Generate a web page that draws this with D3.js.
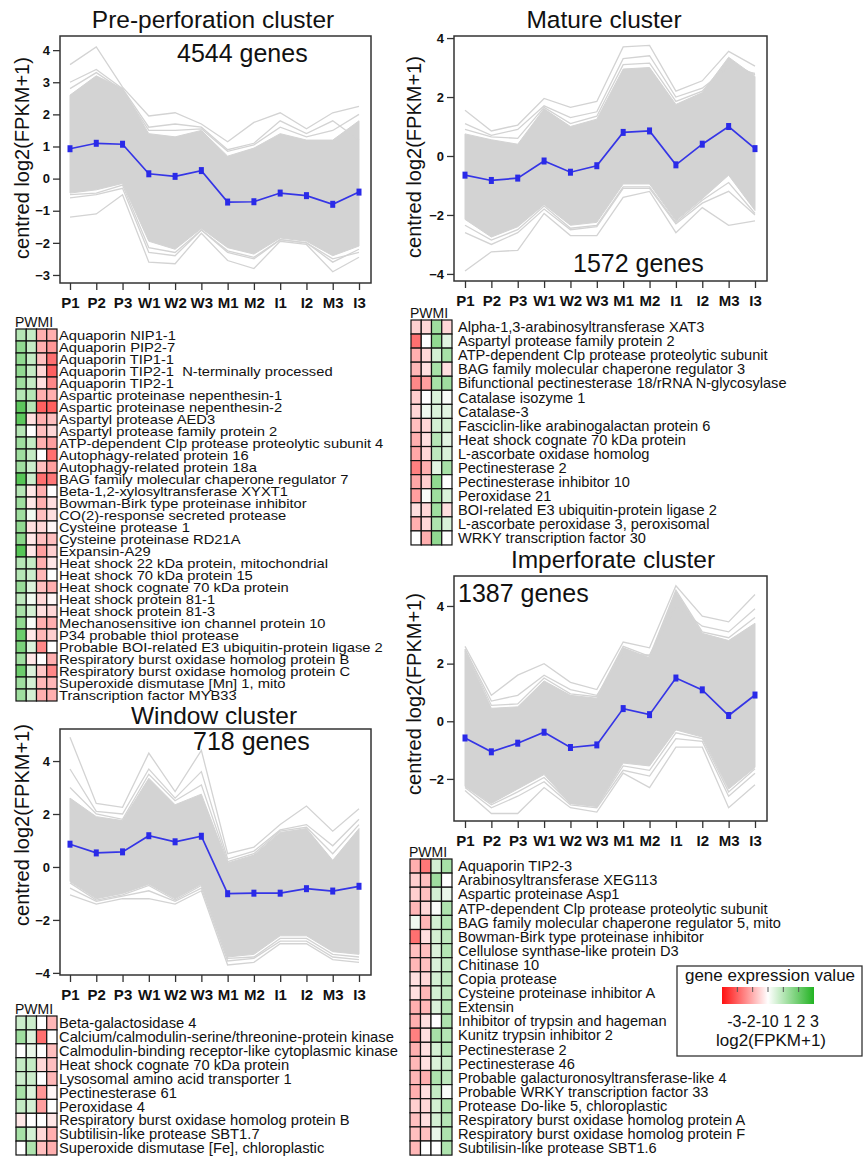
<!DOCTYPE html>
<html><head><meta charset="utf-8">
<script src="https://cdn.jsdelivr.net/npm/d3@7"></script>
<style>
body{margin:0;background:#fff;}
svg{display:block;font-family:"Liberation Sans",Arial,sans-serif;}
</style></head><body>
<svg id="c" width="864" height="1156"></svg>
<script>
// ---------------- DATA ----------------
const stages = ["P1","P2","P3","W1","W2","W3","M1","M2","I1","I2","M3","I3"];
const hmCols = ["P","W","M","I"];

// Pre-perforation cluster (centred log2(FPKM+1))
const preMean = [0.93,1.10,1.07,0.15,0.07,0.25,-0.73,-0.72,-0.45,-0.53,-0.80,-0.42];
const preBandHi = [2.6,3.2,2.8,1.4,1.3,1.5,0.7,0.95,1.4,1.2,1.2,1.8];
const preBandLo = [-0.45,-0.35,-0.15,-1.95,-2.2,-1.55,-2.15,-2.35,-1.85,-1.95,-2.4,-2.1];
const preMax = [3.55,4.1,2.85,1.95,2.05,1.7,1.15,1.75,2.05,1.55,2.05,2.25];
const preMin = [-1.2,-1.1,-0.5,-2.6,-2.65,-1.7,-2.55,-2.8,-1.95,-2.05,-2.9,-2.45];
const preHi2 = [3.0,3.4,2.8,1.6,1.7,1.6,0.9,1.1,1.8,1.4,1.8,1.2];
const preLo2 = [-0.6,-0.5,-0.3,-2.3,-2.4,-1.6,-2.3,-2.5,-1.9,-2.0,-2.6,-2.2];
const preHi3 = [2.8,3.3,2.75,1.5,1.5,1.55,0.85,1.05,1.6,1.3,1.5,2.0];
const preLo3 = [-0.5,-0.45,-0.2,-2.15,-2.3,-1.6,-2.25,-2.45,-1.9,-2.0,-2.5,-2.3];

// Mature cluster
const matMean = [-0.65,-0.83,-0.75,-0.17,-0.55,-0.33,0.80,0.85,-0.30,0.40,1.00,0.25];
const matBandHi = [0.75,0.55,0.4,1.6,1.0,1.25,2.95,3.0,1.75,2.15,3.35,2.7];
const matBandLo = [-2.15,-2.75,-2.4,-1.65,-2.35,-2.25,-0.95,-0.95,-2.2,-1.45,-0.65,-1.85];
const matMax = [1.55,0.85,1.05,1.95,1.65,1.85,3.7,3.75,2.2,2.55,3.55,3.05];
const matMin = [-3.9,-3.25,-3.2,-1.95,-2.7,-2.7,-1.4,-1.2,-2.6,-1.75,-2.35,-2.2];
const matHi2 = [1.1,0.7,0.9,1.7,1.3,1.5,3.3,3.4,2.0,2.3,3.0,2.8];
const matLo2 = [-2.6,-3.0,-2.6,-1.8,-2.5,-2.4,-1.1,-1.1,-2.3,-1.6,-1.2,-2.0];
const matHi3 = [0.9,0.65,0.6,1.65,1.1,1.35,3.1,3.15,1.85,2.2,3.2,2.75];
const matLo3 = [-2.35,-2.85,-2.5,-1.7,-2.45,-2.35,-1.05,-1.05,-2.25,-1.5,-0.9,-1.95];

// Imperforate cluster
const impMean = [-0.58,-1.06,-0.76,-0.38,-0.91,-0.82,0.44,0.23,1.50,1.09,0.20,0.91];
const impBandHi = [2.45,0.45,0.5,1.4,0.9,0.8,2.55,2.2,4.5,3.05,2.8,3.4];
const impBandLo = [-2.25,-2.85,-2.35,-1.85,-2.85,-2.95,-1.45,-1.55,-0.3,-0.55,-2.35,-1.6];
const impMax = [2.6,0.9,1.6,2.0,1.35,1.1,2.75,2.55,4.7,3.65,3.45,4.4];
const impMin = [-2.4,-3.2,-3.2,-2.3,-3.0,-3.15,-1.8,-2.3,-0.9,-0.9,-3.0,-2.2];
const impHi2 = [2.5,0.7,0.9,1.6,1.1,0.9,2.3,2.3,4.0,3.3,3.1,3.9];
const impLo2 = [-2.3,-3.0,-2.6,-2.1,-2.9,-3.0,-1.7,-1.9,-0.6,-0.7,-2.6,-1.8];
const impHi3 = [2.5,0.55,0.6,1.5,0.95,0.85,2.6,2.25,4.55,3.1,2.9,3.6];
const impLo3 = [-2.25,-2.9,-2.45,-1.95,-2.85,-2.95,-1.55,-1.7,-0.4,-0.6,-2.45,-1.65];

// Window cluster
const winMean = [0.86,0.53,0.57,1.18,0.95,1.16,-1.01,-0.99,-0.99,-0.82,-0.91,-0.73];
const winBandHi = [2.6,1.9,1.75,3.35,2.35,2.75,0.15,0.45,1.3,1.45,0.25,1.45];
const winBandLo = [-0.55,-1.2,-1.0,-0.65,-1.2,-0.65,-3.4,-3.3,-2.6,-2.6,-3.2,-3.3];
const winMax = [4.9,2.4,2.25,4.3,2.85,4.4,0.5,0.75,1.6,2.3,1.35,2.2];
const winMin = [-1.05,-1.4,-1.2,-1.2,-1.4,-0.9,-3.7,-3.6,-2.9,-2.9,-3.5,-3.6];
const winHi2 = [3.7,2.1,2.0,3.7,2.6,3.6,0.3,0.6,1.4,1.6,0.8,1.8];
const winLo2 = [-0.8,-1.3,-1.1,-0.9,-1.3,-0.8,-3.55,-3.45,-2.8,-2.8,-3.4,-3.5];
const winHi3 = [3.0,2.0,1.8,3.5,2.5,3.1,0.2,0.5,1.35,1.5,0.5,1.6];
const winLo3 = [-0.6,-1.25,-1.05,-0.7,-1.25,-0.7,-3.45,-3.4,-2.7,-2.7,-3.3,-3.4];

// Heatmap genes and values (columns P, W, M, I)
const preGenes = ["Aquaporin NIP1-1","Aquaporin PIP2-7","Aquaporin TIP1-1","Aquaporin TIP2-1  N-terminally processed","Aquaporin TIP2-1",
"Aspartic proteinase nepenthesin-1","Aspartic proteinase nepenthesin-2","Aspartyl protease AED3","Aspartyl protease family protein 2",
"ATP-dependent Clp protease proteolytic subunit 4","Autophagy-related protein 16","Autophagy-related protein 18a",
"BAG family molecular chaperone regulator 7","Beta-1,2-xylosyltransferase XYXT1","Bowman-Birk type proteinase inhibitor",
"CO(2)-response secreted protease","Cysteine protease 1","Cysteine proteinase RD21A","Expansin-A29",
"Heat shock 22 kDa protein, mitochondrial","Heat shock 70 kDa protein 15","Heat shock cognate 70 kDa protein",
"Heat shock protein 81-1","Heat shock protein 81-3","Mechanosensitive ion channel protein 10","P34 probable thiol protease",
"Probable BOI-related E3 ubiquitin-protein ligase 2","Respiratory burst oxidase homolog protein B",
"Respiratory burst oxidase homolog protein C","Superoxide dismutase [Mn] 1, mito","Transcription factor MYB33"];
const preHeat = [[1.0,0.8,-1.0,-1.0],[1.5,0.8,-1.0,-1.3],[1.5,0.8,-0.8,-1.8],[1.5,0.8,-0.5,-2.0],[1.3,0.8,-0.4,-1.5],
[1.0,1.0,-1.0,-1.0],[2.2,1.0,-2.0,-2.0],[2.2,-0.4,-1.0,-0.8],[1.0,0.0,-0.8,-0.5],[1.3,0.8,-1.0,-1.2],
[1.3,0.8,0.0,-1.8],[1.3,0.7,-0.8,-1.2],[2.3,0.7,-1.8,-1.7],[1.0,-0.3,-1.0,0.0],[1.3,-0.3,-1.0,-0.4],
[1.3,0.2,-0.8,-0.4],[1.5,-0.4,-0.5,-0.1],[1.6,-0.3,-0.8,-0.8],[2.3,-0.3,-1.2,-0.6],[1.0,0.8,-1.0,-0.3],
[1.0,0.7,-0.9,0.0],[1.4,0.5,-0.8,-1.0],[0.9,0.2,-0.5,-0.1],[1.2,0.6,-0.4,-0.5],[1.5,0.1,-1.0,-1.0],
[2.0,-0.3,-0.9,-0.6],[1.8,0.5,-1.5,0.0],[1.3,-0.3,0.0,-1.0],[2.0,0.5,-0.7,-1.5],[1.3,0.6,-0.9,-0.9],[1.3,0.6,-1.0,-1.0]];

const matGenes = ["Alpha-1,3-arabinosyltransferase XAT3","Aspartyl protease family protein 2","ATP-dependent Clp protease proteolytic subunit",
"BAG family molecular chaperone regulator 3","Bifunctional pectinesterase 18/rRNA N-glycosylase","Catalase isozyme 1","Catalase-3",
"Fasciclin-like arabinogalactan protein 6","Heat shock cognate 70 kDa protein","L-ascorbate oxidase homolog","Pectinesterase 2",
"Pectinesterase inhibitor 10","Peroxidase 21","BOI-related E3 ubiquitin-protein ligase 2","L-ascorbate peroxidase 3, peroxisomal",
"WRKY transcription factor 30"];
const matHeat = [[-0.6,-0.5,1.3,-0.5],[-1.8,0.0,1.5,0.4],[-1.0,-0.5,0.6,1.2],[-0.9,-0.4,1.2,-0.4],[-1.5,-1.2,1.2,1.3],
[-0.6,0.0,0.5,0.1],[-0.5,0.2,0.5,0.4],[-0.8,-0.5,0.6,0.6],[-1.0,-0.4,1.0,0.4],[-1.1,-0.5,0.9,0.5],
[-1.6,-1.0,0.4,1.2],[-1.1,-0.6,1.5,0.0],[-1.2,0.1,1.3,0.5],[-0.4,-0.5,1.3,-0.4],[-1.0,-0.5,1.1,0.5],[0.0,-1.0,1.5,0.0]];

const winGenes = ["Beta-galactosidase 4","Calcium/calmodulin-serine/threonine-protein kinase","Calmodulin-binding receptor-like cytoplasmic kinase",
"Heat shock cognate 70 kDa protein","Lysosomal amino acid transporter 1","Pectinesterase 61","Peroxidase 4",
"Respiratory burst oxidase homolog protein B","Subtilisin-like protease SBT1.7","Superoxide dismutase [Fe], chloroplastic"];
const winHeat = [[0.7,0.7,0.0,-0.9],[1.3,0.5,-1.8,0.0],[0.0,0.3,0.0,-0.8],[0.8,0.8,-0.5,-0.8],[0.7,0.7,0.0,-0.9],
[1.2,0.5,-1.3,-0.1],[0.8,0.6,-1.2,0.0],[-0.3,0.0,0.0,-0.3],[1.2,0.6,-0.5,-1.0],[0.0,1.1,-0.8,-1.0]];

const impGenes = ["Aquaporin TIP2-3","Arabinosyltransferase XEG113","Aspartic proteinase Asp1","ATP-dependent Clp protease proteolytic subunit",
"BAG family molecular chaperone regulator 5, mito","Bowman-Birk type proteinase inhibitor","Cellulose synthase-like protein D3",
"Chitinase 10","Copia protease","Cysteine proteinase inhibitor A","Extensin","Inhibitor of trypsin and hageman","Kunitz trypsin inhibitor 2",
"Pectinesterase 2","Pectinesterase 46","Probable galacturonosyltransferase-like 4","Probable WRKY transcription factor 33",
"Protease Do-like 5, chloroplastic","Respiratory burst oxidase homolog protein A","Respiratory burst oxidase homolog protein F",
"Subtilisin-like protease SBT1.6"];
const impHeat = [[-1.0,-1.7,0.6,1.2],[-0.6,-0.8,1.3,0.0],[-0.6,-0.8,0.6,0.3],[-0.9,-0.5,0.1,1.1],[0.2,-0.9,0.6,1.0],
[-1.8,-0.4,0.6,0.9],[-0.8,-0.8,0.5,1.0],[-0.9,-0.8,0.5,0.8],[-0.4,-0.5,0.6,0.9],[-0.4,-0.9,0.6,0.9],
[-1.0,-0.9,0.5,1.0],[-1.0,-0.4,0.0,1.1],[-1.6,-0.4,1.2,1.0],[-1.0,-0.4,0.6,1.0],[-0.9,-0.4,0.5,0.7],
[-0.9,-1.0,1.1,0.9],[-1.0,-0.4,0.8,0.1],[-0.6,-0.5,0.6,1.1],[-0.8,-0.4,0.6,1.0],[-0.8,-0.8,0.3,1.1],[-0.9,0.0,0.0,1.1]];

const legendTicks = [-3,-2,-1,0,1,2,3];

// ---------------- DRAW ----------------
const svg = d3.select("#c");
const heatColor = d3.scaleLinear().domain([-3,0,3]).range(["#ff1010","#ffffff","#22b322"]);
const gray = "#d3d3d3";

function linePanel(cfg){
  const g = svg.append("g");
  const [bx0,by0,bx1,by1] = cfg.box;
  const x = d3.scalePoint().domain(stages).range(cfg.xr);
  const y = d3.scaleLinear().domain(cfg.yd).range([by1,by0]);
  const idx = d3.range(stages.length);
  const area = d3.area().x(i=>x(stages[i])).y0(i=>y(cfg.lo[i])).y1(i=>y(cfg.hi[i]));
  g.append("path").attr("d",area(idx)).attr("fill",gray).attr("stroke",gray).attr("stroke-width",1);
  const line = arr => d3.line().x((d,i)=>x(stages[i])).y(d=>y(d))(arr);
  cfg.extra.forEach(arr=>{
    g.append("path").attr("d",line(arr)).attr("fill","none").attr("stroke",gray).attr("stroke-width",1.3);
  });
  g.append("path").attr("d",line(cfg.mean)).attr("fill","none").attr("stroke","#3535e6").attr("stroke-width",1.7);
  g.selectAll("rect.pt").data(cfg.mean).join("rect")
    .attr("x",(d,i)=>x(stages[i])-2.5).attr("y",d=>y(d)-3.5).attr("width",5).attr("height",7)
    .attr("fill","#2a2ae8");
  g.append("rect").attr("x",bx0).attr("y",by0).attr("width",bx1-bx0).attr("height",by1-by0)
    .attr("fill","none").attr("stroke","#333").attr("stroke-width",1.5);
  const ya = g.append("g").attr("transform",`translate(${bx0},0)`)
    .call(d3.axisLeft(y).tickValues(cfg.yticks).tickSize(7).tickPadding(3).tickFormat(d3.format("d")));
  ya.select(".domain").remove();
  ya.selectAll("line").attr("stroke","#333").attr("stroke-width",1.3);
  ya.selectAll("text").attr("font-size",13).attr("font-weight","bold").attr("fill","#111")
    .attr("font-family","Liberation Sans, Arial, sans-serif");
  const xa = g.append("g").attr("transform",`translate(0,${by1})`)
    .call(d3.axisBottom(x).tickSize(7).tickPadding(7));
  xa.select(".domain").remove();
  xa.selectAll("line").attr("stroke","#333").attr("stroke-width",1.3);
  xa.selectAll("text").attr("font-size",15).attr("font-weight","bold").attr("fill","#111")
    .attr("font-family","Liberation Sans, Arial, sans-serif");
  g.append("text").attr("x",cfg.title[1]).attr("y",cfg.title[2]).attr("text-anchor","middle")
    .attr("font-size",24.5).attr("fill","#111").text(cfg.title[0]);
  g.append("text").attr("x",cfg.count[1]).attr("y",cfg.count[2])
    .attr("font-size",25).attr("fill","#111").text(cfg.count[0]);
  g.append("text").attr("transform",`translate(${cfg.ylab[0]},${cfg.ylab[1]}) rotate(-90)`)
    .attr("text-anchor","middle").attr("font-size",20).attr("fill","#111").text("centred log2(FPKM+1)");
}

function heatmap(cfg){
  const g = svg.append("g");
  const x = d3.scaleBand().domain(hmCols).range([cfg.x0, cfg.x0 + 4*cfg.cw]);
  const y = d3.scaleBand().domain(d3.range(cfg.genes.length)).range([cfg.y0, cfg.y0 + cfg.genes.length*cfg.rh]);
  g.append("text").attr("x",cfg.x0-1).attr("y",cfg.y0-2).attr("font-size",14).attr("fill","#111").text(hmCols.join(""));
  cfg.vals.forEach((row,r)=>{
    g.selectAll(null).data(row).join("rect")
      .attr("x",(d,c)=>x(hmCols[c])).attr("y",y(r)).attr("width",x.bandwidth()).attr("height",y.bandwidth())
      .attr("fill",d=>heatColor(d)).attr("stroke","#111").attr("stroke-width",1.2);
  });
  g.selectAll("text.gene").data(cfg.genes).join("text").attr("class","gene")
    .attr("transform",(d,i)=>`translate(${cfg.tx},${y(i)+y.bandwidth()/2+cfg.dy}) scale(${cfg.sx},1)`)
    .attr("font-size",cfg.fs).attr("fill","#111").style("white-space","pre").text(d=>d);
}

linePanel({box:[60,36,371,283], xr:[70,359], yd:[-3.25,4.44], yticks:[-3,-2,-1,0,1,2,3,4],
  mean:preMean, hi:preBandHi, lo:preBandLo, extra:[preMax,preMin,preHi2,preLo2,preHi3,preLo3],
  title:["Pre-perforation cluster",213,28], count:["4544 genes",177,62], ylab:[29,158]});
linePanel({box:[454,36,767,281], xr:[465,755], yd:[-4.24,4.07], yticks:[-4,-2,0,2,4],
  mean:matMean, hi:matBandHi, lo:matBandLo, extra:[matMax,matMin,matHi2,matLo2,matHi3,matLo3],
  title:["Mature cluster",604,28], count:["1572 genes",573,272], ylab:[421,157]});
linePanel({box:[454,576,767,821], xr:[465,755], yd:[-3.46,5.04], yticks:[-2,0,2,4],
  mean:impMean, hi:impBandHi, lo:impBandLo, extra:[impMax,impMin,impHi2,impLo2,impHi3,impLo3],
  title:["Imperforate cluster",613,568], count:["1387 genes",458,602], ylab:[421,694]});
linePanel({box:[60,729,371,975], xr:[70,359], yd:[-4.08,5.21], yticks:[-4,-2,0,2,4],
  mean:winMean, hi:winBandHi, lo:winBandLo, extra:[winMax,winMin,winHi2,winLo2,winHi3,winLo3],
  title:["Window cluster",214,724], count:["718 genes",193,750], ylab:[29,825]});

heatmap({x0:16, cw:10.25, y0:329, rh:12, tx:59, genes:preGenes, vals:preHeat, fs:12.8, sx:1.15, dy:4.6});
heatmap({x0:411, cw:10.25, y0:320, rh:14.06, tx:458, genes:matGenes, vals:matHeat, fs:14.6, sx:1, dy:5.2});
heatmap({x0:16, cw:10.25, y0:1016, rh:13.9, tx:59, genes:winGenes, vals:winHeat, fs:14.6, sx:1.01, dy:5.2});
heatmap({x0:410, cw:10.5, y0:859, rh:14.1, tx:458, genes:impGenes, vals:impHeat, fs:14.6, sx:1, dy:5.2});

// Legend
(function(){
  const g = svg.append("g");
  g.append("rect").attr("x",677).attr("y",966).attr("width",185).attr("height",90)
    .attr("fill","#fff").attr("stroke","#333").attr("stroke-width",1.3);
  g.append("text").attr("x",770).attr("y",981).attr("text-anchor","middle").attr("font-size",17).attr("fill","#111")
    .text("gene expression value");
  const lx = d3.scaleLinear().domain([-3,3]).range([722,814]);
  const defs = svg.append("defs");
  const grad = defs.append("linearGradient").attr("id","lg");
  legendTicks.forEach(t=>grad.append("stop").attr("offset",(t+3)/6).attr("stop-color",heatColor(t)));
  g.append("rect").attr("x",lx(-3)).attr("y",987).attr("width",lx(3)-lx(-3)).attr("height",17).attr("fill","url(#lg)");
  g.selectAll("line.lt").data(legendTicks.slice(1,-1)).join("line")
    .attr("x1",d=>lx(d)).attr("x2",d=>lx(d)).attr("y1",987).attr("y2",992).attr("stroke","#555").attr("stroke-width",1);
  g.append("text").attr("x",773).attr("y",1027).attr("text-anchor","middle").attr("font-size",16).attr("fill","#111")
    .style("white-space","pre").text(legendTicks.map((t,i)=> (i>0 && t>0 ? " " : "") + t).join(""));
  g.append("text").attr("x",771).attr("y",1046).attr("text-anchor","middle").attr("font-size",17).attr("fill","#111")
    .text("log2(FPKM+1)");
})();
</script>
</body></html>
